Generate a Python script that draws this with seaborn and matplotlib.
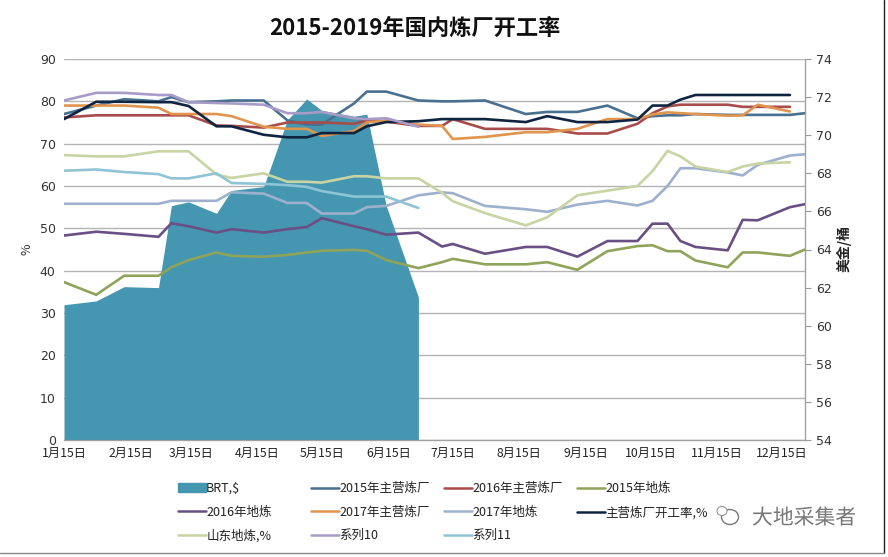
import pandas as pd
import matplotlib
matplotlib.use("Agg")
import matplotlib.pyplot as plt
import matplotlib.patheffects as pe
from matplotlib.lines import Line2D
from matplotlib.patches import Patch, Ellipse
import seaborn as sns

# === Datos ===
fechas = ["01-15", "01-30", "02-12", "02-28", "03-06", "03-14", "03-27", "04-03", "04-18", "04-29", "05-08",
          "05-15", "05-30", "06-05", "06-14", "06-29", "07-10", "07-15", "07-30", "08-18", "08-28", "09-11",
          "09-25", "10-09", "10-16", "10-23", "10-29", "11-05", "11-20", "11-27", "12-04", "12-19", "12-26"]
meses_ticks = ["01-15", "02-15", "03-15", "04-15", "05-15", "06-15", "07-15", "08-15", "09-15", "10-15", "11-15", "12-15"]
etiquetas_ticks = ["1月15日", "2月15日", "3月15日", "4月15日", "5月15日", "6月15日", "7月15日", "8月15日", "9月15日", "10月15日", "11月15日", "12月15日"]

brt = [61.1, 61.3, 62.05, 62.0, 66.3, 66.5, 65.9, 67.1, 67.3, 70.8, 71.9, 71.3, 71.0, 71.1, 66.3, 61.5]

zhuying_2015 = [77.0, 79.0, 80.5, 80.0, 81.0, 79.8, 80.0, 80.2, 80.2, 75.5, 74.5, 74.5, 79.5, 82.3, 82.3, 80.2, 80.0,
                80.0, 80.2, 77.0, 77.5, 77.5, 79.0, 76.0, 76.5, 76.7, 76.7, 77.0, 76.8, 76.8, 76.8, 76.8, 77.2]
zhuying_2016 = [76.2, 76.7, 76.7, 76.7, 76.7, 76.7, 74.3, 74.2, 73.8, 75.0, 75.0, 75.0, 74.7, 75.5, 75.2, 74.2, 74.2,
                75.8, 73.5, 73.5, 73.5, 72.4, 72.4, 74.7, 77.2, 78.8, 79.2, 79.2, 79.2, 78.7, 78.7, 78.7, None]
dilian_2015 = [37.3, 34.3, 38.8, 38.8, 40.8, 42.5, 44.3, 43.5, 43.3, 43.7, 44.3, 44.7, 44.9, 44.7, 42.5, 40.6, 42.0,
               42.8, 41.5, 41.5, 42.0, 40.2, 44.6, 45.8, 46.0, 44.6, 44.6, 42.4, 40.8, 44.3, 44.3, 43.5, 45.0]
dilian_2016 = [48.3, 49.2, 48.7, 48.0, 51.2, 50.5, 49.0, 49.8, 49.0, 49.8, 50.3, 52.4, 50.5, 49.8, 48.5, 49.0, 45.7,
               46.3, 44.0, 45.6, 45.6, 43.3, 47.0, 47.0, 51.1, 51.1, 47.0, 45.6, 44.8, 52.0, 51.9, 55.0, 55.7]
zhuying_2017 = [79.0, 79.0, 79.0, 78.5, 77.0, 77.0, 77.0, 76.5, 74.0, 73.5, 73.5, 71.8, 73.0, 75.0, 75.5, 74.5, 74.2,
                71.1, 71.6, 72.7, 72.7, 73.5, 75.8, 75.8, 76.9, 77.4, 77.2, 77.0, 76.6, 76.7, 79.2, 77.6, None]
dilian_2017 = [55.8, 55.8, 55.8, 55.8, 56.5, 56.5, 56.5, 58.5, 58.2, 56.0, 56.0, 53.5, 53.5, 55.0, 55.3, 57.8, 58.5,
               58.3, 55.3, 54.5, 53.9, 55.6, 56.5, 55.4, 56.5, 60.0, 64.2, 64.2, 63.2, 62.5, 65.0, 67.2, 67.5]
kaigong = [75.8, 79.9, 79.9, 79.8, 79.8, 78.9, 74.1, 74.1, 72.1, 71.5, 71.5, 72.5, 72.5, 74.1, 75.1, 75.3, 75.8,
           75.8, 75.8, 75.1, 76.5, 75.1, 75.1, 75.7, 79.0, 79.0, 80.4, 81.5, 81.5, 81.5, 81.5, 81.5, None]
shandong = [67.3, 67.0, 67.0, 68.2, 68.2, 68.2, 62.7, 61.9, 63.0, 61.0, 61.0, 60.8, 62.3, 62.3, 61.8, 61.8, 58.4,
            56.4, 53.6, 50.7, 52.6, 57.8, 58.9, 60.0, 63.5, 68.3, 67.0, 64.6, 63.3, 64.6, 65.3, 65.6, None]
xilie_10 = [80.2, 82.0, 82.0, 81.5, 81.5, 79.8, 79.6, 79.5, 79.2, 77.2, 77.2, 77.5, 76.0, 75.8, 76.0, 74.0]
xilie_11 = [63.6, 63.9, 63.3, 62.8, 61.8, 61.8, 63.0, 60.7, 60.5, 60.2, 59.8, 58.8, 57.5, 57.5, 57.5, 54.8]

series = [
    ("2015年主营炼厂", zhuying_2015, "#4A7090"),
    ("2016年主营炼厂", zhuying_2016, "#A84B4B"),
    ("2015年地炼", dilian_2015, "#8FA35A"),
    ("2016年地炼", dilian_2016, "#6A4F85"),
    ("2017年主营炼厂", zhuying_2017, "#E0944E"),
    ("2017年地炼", dilian_2017, "#9DB0CE"),
    ("主营炼厂开工率,%", kaigong, "#0F2440"),
    ("山东地炼,%", shandong, "#C8D4A3"),
    ("系列10", xilie_10, "#A99BC8"),
    ("系列11", xilie_11, "#8FC4D4"),
]
color_brt = "#4596B0"

# === Estilo ===
sns.set_style("white")
plt.rcParams["font.family"] = ["Noto Sans CJK SC", "DejaVu Sans"]
x = pd.to_datetime(["2019-" + f for f in fechas])
W, H = 888, 557

fig = plt.figure(figsize=(W / 100, H / 100), dpi=100)
ax = fig.add_axes([64 / W, 1 - 440 / H, (805 - 64) / W, (440 - 59) / H])
ax2 = ax.twinx()
ax_lineas = ax.twinx()
ax.set_zorder(1)
ax2.set_zorder(2)
ax_lineas.set_zorder(3)
ax2.patch.set_visible(False)
ax_lineas.patch.set_visible(False)

# === Area BRT (eje derecho) ===
ax2.fill_between(x[:len(brt)], brt, 54, color=color_brt, linewidth=0)
ax2.set_ylim(54, 74)
ax2.set_yticks(range(54, 75, 2))
ax2.tick_params(axis="y", labelsize=9, colors="#333333", length=4, width=0.8, pad=4, color="#999999")
for t in ax2.get_yticklabels():
    t.set_fontfamily("DejaVu Sans")

# === Lineas (eje izquierdo) ===
for nombre, valores, color in series:
    sns.lineplot(x=x[:len(valores)], y=pd.Series(valores, dtype=float), color=color, linewidth=1.9,
                 errorbar=None, ax=ax_lineas)
ax_lineas.set_ylim(0, 90)
ax_lineas.set_yticks([])
ax_lineas.set_ylabel("")
ax_lineas.set_xlabel("")

# === Ejes ===
ax.set_ylim(0, 90)
ax.set_yticks(range(0, 91, 10))
ax.set_xlim(x[0], x[-1])
ax.grid(axis="y", color="#B4B4B4", linewidth=1.0)
ax.set_axisbelow(True)
ax.tick_params(axis="y", labelsize=9, colors="#333333", length=0, pad=6)
for t in ax.get_yticklabels():
    t.set_fontfamily("DejaVu Sans")
ax.set_xticks(pd.to_datetime(["2019-" + m for m in meses_ticks]))
ax.set_xticklabels(etiquetas_ticks, fontsize=8.8, color="#222222")
ax.tick_params(axis="x", length=0, pad=5)

for a in (ax, ax2, ax_lineas):
    for lado in ("top", "left"):
        a.spines[lado].set_visible(False)
    a.spines["right"].set_color("#A0A0A0")
    a.spines["bottom"].set_color("#A0A0A0")
    a.set_xlim(x[0], x[-1])

fig.text(27 / W, 1 - 249 / H, "%", rotation=90, fontsize=9, ha="center", va="center", color="#333333")
fig.text(844 / W, 1 - 249 / H, "美金/桶", rotation=90, fontsize=10, fontweight="bold", ha="center", va="center", color="#222222")
fig.text(415 / W, 1 - 28 / H, "2015-2019年国内炼厂开工率", fontsize=16, fontweight="bold", ha="center", va="center", color="#111111")

# === Leyenda por columnas ===
colores = {n: c for n, _, c in series}
columnas = [
    (178, ["BRT,$", "2016年地炼", "山东地炼,%"]),
    (311, ["2015年主营炼厂", "2017年主营炼厂", "系列10"]),
    (444, ["2016年主营炼厂", "2017年地炼", "系列11"]),
    (577, ["2015年地炼", "主营炼厂开工率,%"]),
]
for px, nombres in columnas:
    handles = []
    for n in nombres:
        if n == "BRT,$":
            handles.append(Patch(color=color_brt, label=n))
        else:
            handles.append(Line2D([0], [0], color=colores[n], linewidth=1.8, label=n))
    fig.legend(handles=handles, loc="upper left", bbox_to_anchor=(px / W, 1 - 482 / H), bbox_transform=fig.transFigure,
               frameon=False, fontsize=9, handlelength=2.2, handletextpad=0.05, labelspacing=0.85,
               borderpad=0, borderaxespad=0, labelcolor="#222222")

# === Marca de agua ===
t = fig.text(752 / W, 1 - 518 / H, "大地采集者", fontsize=15, color="#777777", ha="left", va="center", zorder=10)
t.set_path_effects([pe.withStroke(linewidth=1.5, foreground="white")])
icono = fig.add_axes([0, 0, 1, 1], zorder=9)
icono.set_xlim(0, W)
icono.set_ylim(H, 0)
icono.axis("off")
icono.add_patch(Ellipse((730, 517), 17, 15, fill=False, edgecolor="#777777", linewidth=1))
icono.add_patch(Ellipse((722, 511), 10, 9, facecolor="white", edgecolor="#999999", linewidth=0.8))

# === Marco de la imagen ===
fig.add_artist(Line2D([884 / W, 884 / W], [1 - 553 / H, 1], color="#222222", linewidth=1))
fig.add_artist(Line2D([0, 884 / W], [1 - 553 / H, 1 - 553 / H], color="#888888", linewidth=1))

fig.savefig("out.png", dpi=100)
